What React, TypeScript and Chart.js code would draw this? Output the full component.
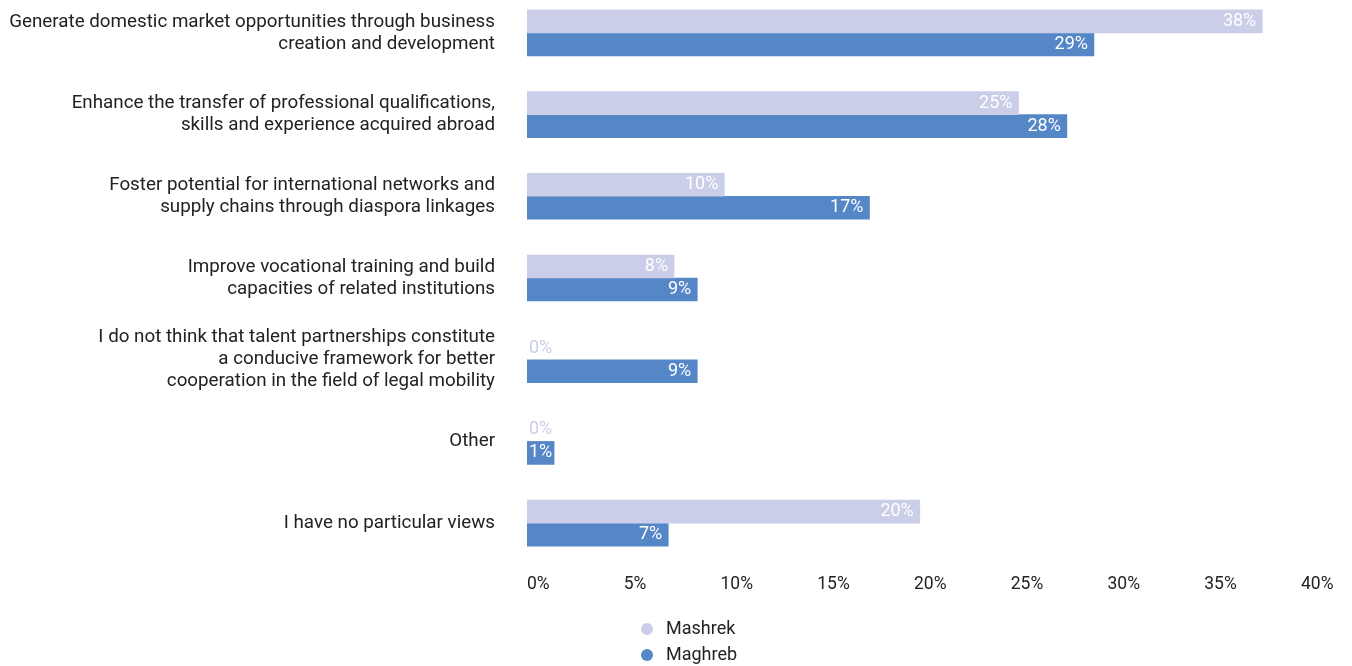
import React, { useEffect, useRef } from 'react';
import { Chart, registerables } from 'chart.js';

Chart.register(...registerables);

const categories: (string | string[])[] = [
  ['Generate domestic market opportunities through business', 'creation and development'],
  ['Enhance the transfer of professional qualifications,', 'skills and experience acquired abroad'],
  ['Foster potential for international networks and', 'supply chains through diaspora linkages'],
  ['Improve vocational training and build', 'capacities of related institutions'],
  ['I do not think that talent partnerships constitute', 'a conducive framework for better', 'cooperation in the field of legal mobility'],
  'Other',
  'I have no particular views',
];

const seriesNames = ['Mashrek', 'Maghreb'];
const mashrekValues = [38.0, 25.4, 10.2, 7.6, 0, 0, 20.3];
const maghrebValues = [29.3, 27.9, 17.7, 8.8, 8.8, 1.4, 7.3];
const mashrekLabels = ['38%', '25%', '10%', '8%', '0%', '0%', '20%'];
const maghrebLabels = ['29%', '28%', '17%', '9%', '9%', '1%', '7%'];
const xTickValues = [0, 5, 10, 15, 20, 25, 30, 35, 40];

const LIGHT = '#cacee9';
const BLUE = '#5587c7';
const seriesColors = [LIGHT, BLUE];
const TEXT = '#222222';
const FONT = 'Roboto, "Noto Sans", sans-serif';

const valueLabelPlugin = {
  id: 'valueLabels',
  afterDatasetsDraw(chart: any) {
    const ctx = chart.ctx;
    const allLabels = [mashrekLabels, maghrebLabels];
    ctx.save();
    ctx.font = `18px ${FONT}`;
    ctx.textBaseline = 'middle';
    chart.data.datasets.forEach((ds: any, di: number) => {
      const meta = chart.getDatasetMeta(di);
      meta.data.forEach((el: any, i: number) => {
        const txt = allLabels[di][i];
        const w = ctx.measureText(txt).width;
        const v = ds.data[i];
        ctx.textAlign = 'left';
        if (v === 0) {
          ctx.fillStyle = seriesColors[di];
          ctx.fillText(txt, el.base + 2, el.y);
        } else {
          ctx.fillStyle = '#ffffff';
          const x = Math.max(el.x - 6 - w, el.base + 2);
          ctx.fillText(txt, x, el.y);
        }
      });
    });
    ctx.restore();
  },
};

const legendPlugin = {
  id: 'stackedLegend',
  afterDraw(chart: any) {
    const ctx = chart.ctx;
    const area = chart.chartArea;
    ctx.save();
    ctx.font = `18px ${FONT}`;
    ctx.textBaseline = 'middle';
    ctx.textAlign = 'left';
    chart.data.datasets.forEach((ds: any, di: number) => {
      const cx = area.left + 120;
      const cy = area.bottom + 65 + di * 26;
      ctx.beginPath();
      ctx.fillStyle = seriesColors[di];
      ctx.arc(cx, cy, 6, 0, Math.PI * 2);
      ctx.fill();
      ctx.fillStyle = TEXT;
      ctx.fillText(ds.label, cx + 19, cy);
    });
    ctx.restore();
  },
};

const barColor = (di: number) => (c: any) => (c.raw === 0 ? 'rgba(0,0,0,0)' : seriesColors[di]);

export default function App() {
  const ref = useRef<HTMLCanvasElement>(null);
  useEffect(() => {
    if (!ref.current) return;
    const chart = new Chart(ref.current, {
      type: 'bar',
      data: {
        labels: categories,
        datasets: [
          { label: seriesNames[0], data: mashrekValues, backgroundColor: barColor(0), barThickness: 23 },
          { label: seriesNames[1], data: maghrebValues, backgroundColor: barColor(1), barThickness: 23 },
        ],
      },
      options: {
        indexAxis: 'y',
        animation: false,
        responsive: true,
        maintainAspectRatio: false,
        layout: { padding: { left: 0, top: 12, right: 51, bottom: 61 } },
        plugins: {
          legend: { display: false },
          tooltip: { enabled: false },
        },
        scales: {
          x: {
            min: 0,
            max: 40,
            afterBuildTicks: (scale: any) => {
              scale.ticks = xTickValues.map((v) => ({ value: v }));
            },
            grid: { display: false, drawTicks: false },
            border: { display: false },
            ticks: {
              align: 'start',
              padding: 10,
              color: TEXT,
              font: { family: FONT, size: 17.5 },
              callback: (v: any) => `${v}%`,
            },
          },
          y: {
            grid: { display: false, drawTicks: false },
            border: { display: false },
            afterFit: (scale: any) => {
              scale.width = 527;
              scale.paddingTop = 0;
              scale.paddingBottom = 0;
            },
            ticks: {
              padding: 32,
              color: TEXT,
              font: { family: FONT, size: 18.8, lineHeight: 1.17 },
            },
          },
        },
      },
      plugins: [valueLabelPlugin, legendPlugin],
    });
    return () => chart.destroy();
  }, []);
  return (
    <div style={{ position: 'absolute', left: 0, top: -20, width: 1352, height: 686 }}>
      <canvas ref={ref} />
    </div>
  );
}
